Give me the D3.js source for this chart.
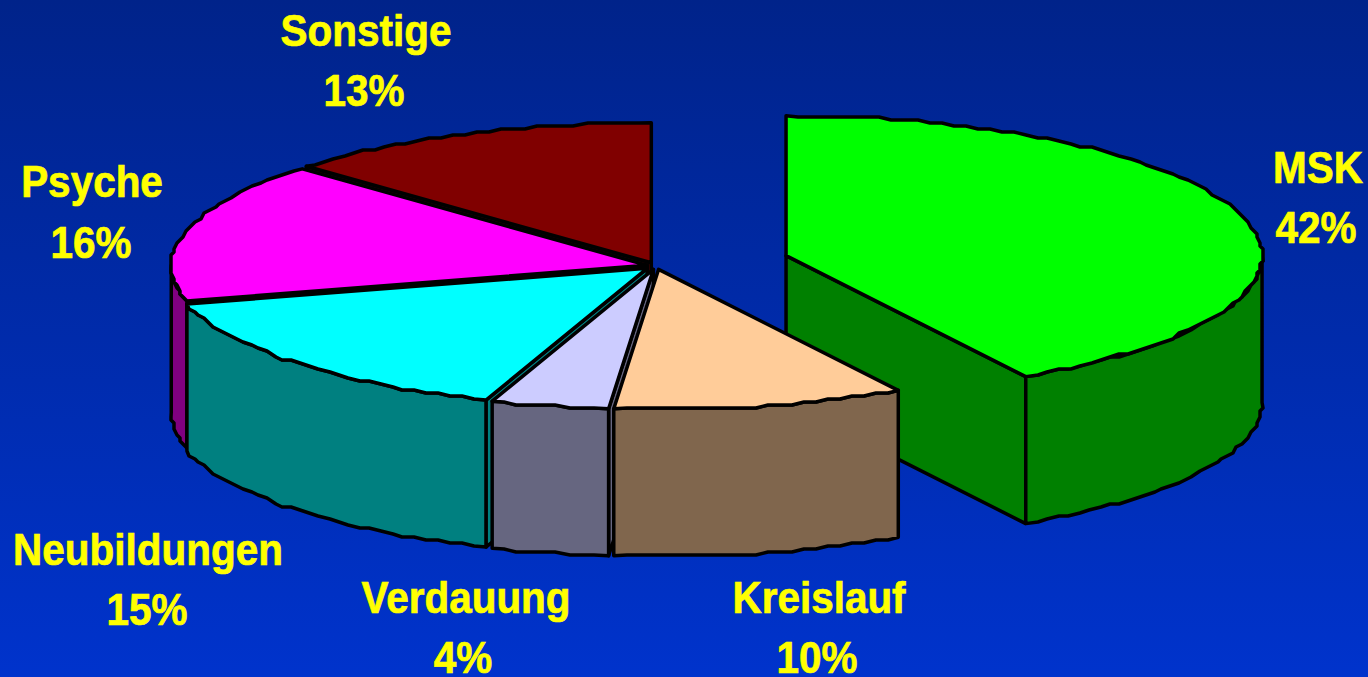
<!DOCTYPE html>
<html><head><meta charset="utf-8">
<script src="https://cdn.jsdelivr.net/npm/d3@7"></script>
<style>html,body{margin:0;padding:0;background:#0033cc;overflow:hidden}svg{display:block}</style>
</head><body><svg id="c" width="1368" height="677"></svg>
<script>
// Data
const categories = ["MSK","Kreislauf","Verdauung","Neubildungen","Psyche","Sonstige"];
const shares = [41.6,9.9,4.0,15.4,16.2,12.9];
const topColors = ["#00ff00","#ffcc99","#ccccff","#00ffff","#ff00ff","#800000"];

// Layout
const W=1368,H=677,CX=656,CY=266,RX=476,RY=140,DEPTH=147,GRID=3;
const explode = [0.283,0.025,0.025,0.025,0.019,0.025];
const drawOrder = [0,5,4,3,2,1];
const labelAnchors = [[1318,183,1316,243],[819,613,817,673],[466,613,463,673],[148,565,147,625],[92,197,91,258],[366,46,364,106]];

const svg=d3.select("#c");
const defs=svg.append("defs");
const g=defs.append("linearGradient").attr("id","bg").attr("x1",0).attr("x2",0).attr("y1",0).attr("y2",1);
g.append("stop").attr("offset",0).attr("stop-color","#00238a");
g.append("stop").attr("offset",1).attr("stop-color","#0033cc");
svg.append("rect").attr("width",W).attr("height",H).attr("fill","url(#bg)");

const x=d3.scaleLinear().domain([-1,1]).range([CX-RX,CX+RX]);
const y=d3.scaleLinear().domain([-1,1]).range([CY-RY,CY+RY]);
const pie=d3.pie().sort(null).value(d=>d);
const arcs=pie(shares);
const line=d3.line().curve(d3.curveLinear);
const snap=v=>Math.round(v/GRID)*GRID;

function rim(a0,a1,ox,oy){
  const n=Math.max(1,Math.ceil((a1-a0)/(1.6*Math.PI/180)));
  return d3.range(n+1).map(i=>{
    const a=a0+(a1-a0)*i/n;
    const px=x(Math.sin(a)+ox), py=y(-Math.cos(a)+oy);
    const keep=i===0||i===n;
    return keep?[px,py]:[snap(px),snap(py)];
  });
}
const down=pts=>pts.map(p=>[p[0],p[1]+DEPTH]).reverse();
function darker(c){const k=d3.rgb(c);return d3.rgb(k.r/2,k.g/2,k.b/2).formatHex();}

const chart=svg.append("g");
drawOrder.forEach(i=>{
  const d=arcs[i],a0=d.startAngle,a1=d.endAngle,mid=(a0+a1)/2;
  const ox=explode[i]*Math.sin(mid), oy=-explode[i]*Math.cos(mid);
  const apex=[x(ox),y(oy)];
  const wall=darker(topColors[i]);
  const s=chart.append("g").attr("class","slice").attr("data-name",categories[i]);
  const paint=(pts,fill,sw)=>s.append("path").attr("d",line(pts)+"Z").attr("fill",fill)
    .attr("stroke","#000").attr("stroke-width",sw).attr("stroke-linejoin","round");
  const edge=a=>[x(Math.sin(a)+ox),y(-Math.cos(a)+oy)];
  if(Math.sin(a0)<-1e-6){const e=edge(a0);paint([apex,e,[e[0],e[1]+DEPTH],[apex[0],apex[1]+DEPTH]],wall,3.5);}
  if(Math.sin(a1)>1e-6){const e=edge(a1);paint([apex,e,[e[0],e[1]+DEPTH],[apex[0],apex[1]+DEPTH]],wall,3.5);}
  const w0=Math.max(a0,Math.PI/2),w1=Math.min(a1,Math.PI*1.5);
  if(w1>w0){const r=rim(w0,w1,ox,oy);paint(r.concat(down(r)),wall,3.5);}
  paint([apex].concat(rim(a0,a1,ox,oy)),topColors[i],3.5);
});

const labels=svg.append("g").attr("font-family","'Liberation Sans',Arial,sans-serif").attr("font-weight","bold")
  .attr("font-size",44).attr("fill","#ffff00").attr("stroke","#ffff00").attr("stroke-width",0.7).attr("text-anchor","middle");
categories.forEach((c,i)=>{
  const p=labelAnchors[i];
  labels.append("text").attr("transform",`translate(${p[0]},${p[1]}) scale(0.92,1)`).text(c);
  labels.append("text").attr("transform",`translate(${p[2]},${p[3]}) scale(0.92,1)`).text(Math.round(shares[i])+"%");
});
</script></body></html>
